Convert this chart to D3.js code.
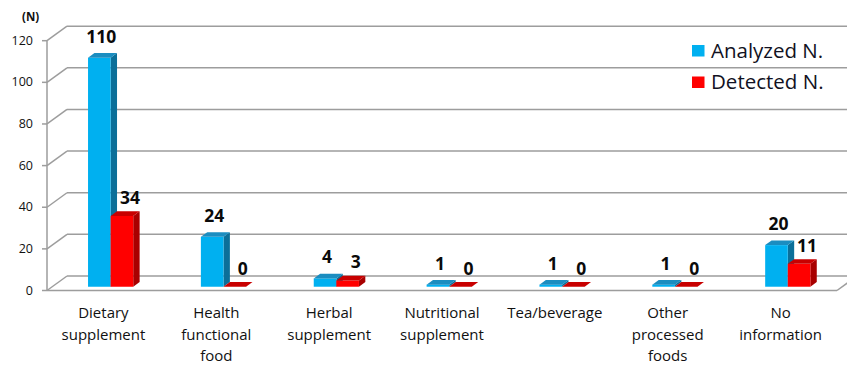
<!DOCTYPE html>
<html>
<head>
<meta charset="utf-8">
<script src="https://cdn.jsdelivr.net/npm/d3@7"></script>
<style>
  html, body { margin: 0; padding: 0; background: #fff; }
  svg { display: block; font-family: "Open Sans", sans-serif; }
</style>
</head>
<body>
<svg id="chart" width="847" height="365"></svg>
<script>
// Sample counts per product category
const categories = [
  ["Dietary", "supplement"],
  ["Health", "functional", "food"],
  ["Herbal", "supplement"],
  ["Nutritional", "supplement"],
  ["Tea/beverage"],
  ["Other", "processed", "foods"],
  ["No", "information"]
];
const analyzed = [110, 24, 4, 1, 1, 1, 20];
const detected = [34, 0, 3, 0, 0, 0, 11];
const yTicks = [0, 20, 40, 60, 80, 100, 120];
const seriesNames = ["Analyzed N.", "Detected N."];

const svg = d3.select("#chart");

// front plane of the pseudo-3D box
const left = 47, right = 837, base = 290.5, topY = 40.7;
const depthX = 20, depthY = -14.5;           // offset of the back wall
const proj = (x, y, t) => [x + depthX * t, y + depthY * t];

const x = d3.scaleBand().domain(d3.range(categories.length)).range([left, right]).padding(0);
const y = d3.scaleLinear().domain([0, 120]).range([base, topY]);

const gridColor = "#9d9d9d";
const grid = svg.append("g").attr("stroke", gridColor).attr("stroke-width", 1.5).attr("fill", "none");

// back-wall gridlines and left-wall diagonals
yTicks.forEach(v => {
  const [bx, by] = proj(left, y(v), 1);
  grid.append("line").attr("x1", left).attr("y1", y(v)).attr("x2", bx).attr("y2", by);
  grid.append("line").attr("x1", bx).attr("y1", by).attr("x2", 860).attr("y2", by);
  grid.append("line").attr("x1", left - 5).attr("y1", y(v)).attr("x2", left).attr("y2", y(v));
});
// vertical axis and floor front edge
grid.append("line").attr("x1", left).attr("y1", y(120)).attr("x2", left).attr("y2", y(0));
grid.append("line").attr("x1", left).attr("y1", y(0)).attr("x2", right).attr("y2", y(0));
{
  const [rx, ry] = proj(right, y(0), 1);
  grid.append("line").attr("x1", right).attr("y1", y(0)).attr("x2", rx).attr("y2", ry);
}

// y tick labels
svg.append("g").selectAll("text").data(yTicks).join("text")
  .attr("x", 33).attr("y", d => y(d) + 4)
  .attr("text-anchor", "end").attr("font-size", 12.5).attr("fill", "#111")
  .text(d => d);

svg.append("text").attr("x", 22).attr("y", 21)
  .attr("font-size", 11.5).attr("font-weight", "bold").attr("fill", "#111").text("(N)");

// bars
const t0 = 0.26, t1 = 0.58;
const barW = 22.6;
const colors = [
  { front: "#00b0f0", top: "#1b8dc0", side: "#0b6f99" },
  { front: "#ff0000", top: "#c80000", side: "#a80000" }
];
const series = [analyzed, detected];

const bars = svg.append("g");
const labels = svg.append("g").attr("font-weight", "bold").attr("font-size", 17.5)
  .attr("fill", "#0a0a0a").attr("text-anchor", "middle");

const poly = pts => pts.map(p => p.join(",")).join(" ");

categories.forEach((c, i) => {
  const groupStart = x(i) + x.bandwidth() / 2 + 2 - barW;
  series.forEach((vals, s) => {
    const v = vals[i];
    const x0 = groupStart + s * barW, x1 = x0 + barW;
    const yb = y(0), yt = y(v);
    const col = colors[s];
    const F = (px, py) => proj(px, py, t0);
    const B = (px, py) => proj(px, py, t1);
    if (v > 0) {
      // side face
      bars.append("polygon").attr("fill", col.side)
        .attr("points", poly([F(x1, yb), B(x1, yb), B(x1, yt), F(x1, yt)]));
      // front face
      bars.append("polygon").attr("fill", col.front)
        .attr("points", poly([F(x0, yb), F(x1, yb), F(x1, yt), F(x0, yt)]));
    }
    // top face
    bars.append("polygon").attr("fill", col.top)
      .attr("points", poly([F(x0, yt), F(x1, yt), B(x1, yt), B(x0, yt)]));

    const [lx, ly] = F((x0 + x1) / 2, yt);
    labels.append("text")
      .attr("x", lx + (s === 0 ? 2 : 8))
      .attr("y", ly - (s === 0 ? 15 : 12))
      .text(v);
  });

  // category label
  const cx = x(i) + x.bandwidth() / 2;
  const t = svg.append("text").attr("x", cx).attr("y", 318)
    .attr("text-anchor", "middle").attr("font-size", 15).attr("fill", "#111");
  c.forEach((line, k) => {
    t.append("tspan").attr("x", cx).attr("dy", k === 0 ? 0 : 21.5).text(line);
  });
});

// legend
const legend = svg.append("g");
seriesNames.forEach((name, s) => {
  const ly = 45 + s * 31.5;
  legend.append("rect").attr("x", 692).attr("y", ly).attr("width", 12.5).attr("height", 11.5)
    .attr("fill", colors[s].front);
  legend.append("text").attr("x", 711).attr("y", ly + 12.5)
    .attr("font-size", 20.5).attr("fill", "#111122").text(name);
});
</script>
</body>
</html>
